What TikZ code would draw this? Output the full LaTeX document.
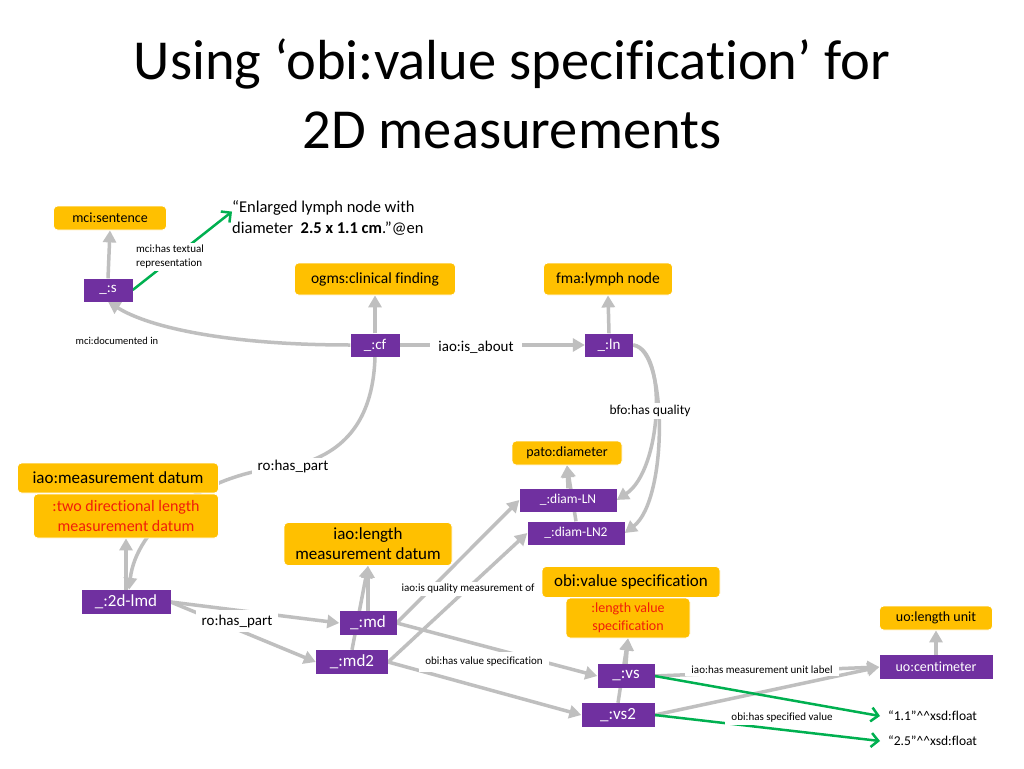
\documentclass[tikz,border=0pt]{standalone}
\usepackage{fontspec}
\setmainfont{Carlito}[Ligatures=NoCommon]
\usetikzlibrary{arrows.meta,backgrounds}
\definecolor{clsyellow}{RGB}{255,192,0}
\definecolor{instpurple}{RGB}{112,48,160}
\definecolor{linkgray}{RGB}{191,191,191}
\definecolor{litgreen}{RGB}{0,176,80}
\definecolor{subred}{RGB}{240,30,10}
\newcommand{\carets}{\textasciicircum\textasciicircum}

\begin{document}
\begin{tikzpicture}[x=1pt,y=-1pt,
  fs/.style 2 args={font=\fontsize{#1}{#2}\selectfont},
  cls/.style={fill=clsyellow,draw=white,line width=0.8pt,rounded corners=4pt,inner sep=1pt,align=center},
  inst/.style={fill=instpurple,text=white,inner sep=1pt,align=center},
  rel/.style={fill=white,inner xsep=6pt,inner ysep=2pt,align=center,fs={11}{14}},
  link/.style={draw=linkgray,line width=3.5pt,-{Triangle[length=12pt,width=13pt]}},
  litlink/.style={draw=litgreen,line width=2.5pt,-{Straight Barb[length=7pt,width=14pt]}}]
  \useasboundingbox (0,0) rectangle (1024,768);

  % Title
  \node[anchor=base,fs={56.5}{68}] (title1) at (512,79) {Using ‘obi:value specification’ for};
  \node[anchor=base,fs={56.5}{68}] (title2) at (512,148) {2D measurements};

  % Classes
  \node[cls,fs={14}{17},minimum width=113pt,minimum height=24pt] (sent) at (110,218) {mci:sentence};
  \node[cls,fs={15.5}{18},minimum width=161pt,minimum height=32pt] (clin) at (375,279) {ogms:clinical finding};
  \node[cls,fs={15.5}{18},minimum width=129pt,minimum height=32pt] (lymph) at (608,279) {fma:lymph node};
  \node[cls,fs={14}{17},minimum width=110pt,minimum height=24pt] (pato) at (567,453) {pato:diameter};
  \node[cls,fs={17}{20},minimum width=201pt,minimum height=30pt] (measD) at (118,478) {iao:measurement datum};
  \node[cls,fs={16}{20},text=subred,minimum width=185pt,minimum height=44pt] (twoD) at (126,516) {:two directional length\\measurement datum};
  \node[cls,fs={17}{20},minimum width=168pt,minimum height=43pt] (lenMD) at (368,544) {iao:length\\measurement datum};
  \node[cls,fs={17}{20},minimum width=178pt,minimum height=31pt] (valS) at (631,582) {obi:value specification};
  \node[cls,fs={14}{18},text=subred,minimum width=124pt,minimum height=40pt] (lenVS) at (628,618) {:length value\\specification};
  \node[cls,fs={14}{17},minimum width=113pt,minimum height=24pt] (lenU) at (936,618) {uo:length unit};

  % Instances
  \node[inst,fs={15}{18},minimum width=49pt,minimum height=23pt] (s) at (108,290) {\_:s};
  \node[inst,fs={15}{18},minimum width=49pt,minimum height=23pt] (cf) at (375,345) {\_:cf};
  \node[inst,fs={15}{18},minimum width=48pt,minimum height=23pt] (ln) at (609,345) {\_:ln};
  \node[inst,fs={13.5}{16},minimum width=97pt,minimum height=23pt] (dLN) at (568,500) {\_:diam-LN};
  \node[inst,fs={13.5}{16},minimum width=97pt,minimum height=23pt] (dLN2) at (576,533) {\_:diam-LN2};
  \node[inst,fs={17}{20},minimum width=89pt,minimum height=24pt] (lmd) at (126,602) {\_:2d-lmd};
  \node[inst,fs={17}{20},minimum width=57pt,minimum height=24pt] (md) at (368,623) {\_:md};
  \node[inst,fs={17}{20},minimum width=72pt,minimum height=24pt] (md2) at (352,662) {\_:md2};
  \node[inst,fs={17}{20},minimum width=57pt,minimum height=24pt] (vs) at (626,676) {\_:vs};
  \node[inst,fs={17}{20},minimum width=73pt,minimum height=24pt] (vs2) at (618,715) {\_:vs2};
  \node[inst,fs={14}{17},minimum width=113pt,minimum height=24pt] (cm) at (936,667) {uo:centimeter};

  % Literals
  \node[anchor=north west,inner sep=0pt,align=left,fs={16.5}{21}] (enl) at (232,200)
    {“Enlarged lymph node with\\diameter\ \ \textbf{2.5 x 1.1 cm}.”@en};
  \node[anchor=west,inner xsep=8pt,fs={13.5}{16}] (lit11) at (880,716) {“1.1”\carets xsd:float};
  \node[anchor=west,inner xsep=8pt,fs={13.5}{16}] (lit25) at (880,741) {“2.5”\carets xsd:float};

  % Relation labels
  \node[rel,align=left] (hastext) at (170,257) {mci:has textual\\representation};
  \node[rel,fs={10.5}{13}] (docin) at (117,341) {mci:documented in};
  \node[rel,fs={15}{18},inner xsep=8pt] (isabout) at (476,347) {iao:is\_about};
  \node[rel,fs={13.5}{16}] (hasq) at (650,411) {bfo:has quality};
  \node[rel,fs={15}{18}] (rohp1) at (293,466) {ro:has\_part};
  \node[rel,fs={15}{18},inner ysep=5pt] (rohp2) at (237,621) {ro:has\_part};
  \node[rel] (isqm) at (468,589) {iao:is quality measurement of};
  \node[rel,inner ysep=5pt] (hasvs) at (484,662) {obi:has value specification};
  \node[rel] (hasmu) at (762,670) {iao:has measurement unit label};
  \node[rel] (hassv) at (782,718) {obi:has specified value};

  \begin{scope}[on background layer]
    \fill[white] (0,0) rectangle (1024,768);
    % type links
    \draw[link] (s.north) -- (sent.south);
    \draw[link] (cf.north) -- (clin.south);
    \draw[link] (ln.north) -- (lymph.south);
    \draw[link] (dLN.north) -- (pato.south);
    \draw[link] (dLN2.north) -- (pato.south);
    \draw[link] (lmd.north) -- (twoD.south);
    \draw[link] (md.north) -- (lenMD.south);
    \draw[link] (md2.north) -- (lenMD.south);
    \draw[link] (vs.north) -- (lenVS.south);
    \draw[link] (vs2.north) -- (lenVS.south);
    \draw[link] (cm.north) -- (lenU.south);
    % object links
    \draw[link] (cf.west) .. controls (230,345) and (150,328) .. (s.south);
    \draw[link] (cf.east) -- (ln.west);
    \draw[link] (ln.east) .. controls (668,350) and (662,470) .. (dLN.east);
    \draw[link] (ln.east) .. controls (668,350) and (668,500) .. (dLN2.east);
    \draw[link] (cf.south) .. controls (373,425) and (340,455) .. (rohp1.center)
      .. controls (200,472) and (136,528) .. ([xshift=3pt]lmd.north);
    \draw[link] (lmd.east) -- (md.west);
    \draw[link] (lmd.east) -- (md2.west);
    \draw[link] (md.east) -- (dLN.west);
    \draw[link] (md2.east) -- (dLN2.west);
    \draw[link] (md.east) -- (vs.west);
    \draw[link] (md2.east) -- (vs2.west);
    \draw[link] (vs.east) -- (cm.west);
    \draw[link] (vs2.east) -- (cm.west);
    % literal links
    \draw[litlink] (s.east) -- ([yshift=6pt]enl.west);
    \draw[litlink] (vs.east) -- (lit11.west);
    \draw[litlink] (vs2.east) -- (lit25.west);
  \end{scope}
\end{tikzpicture}
\end{document}
